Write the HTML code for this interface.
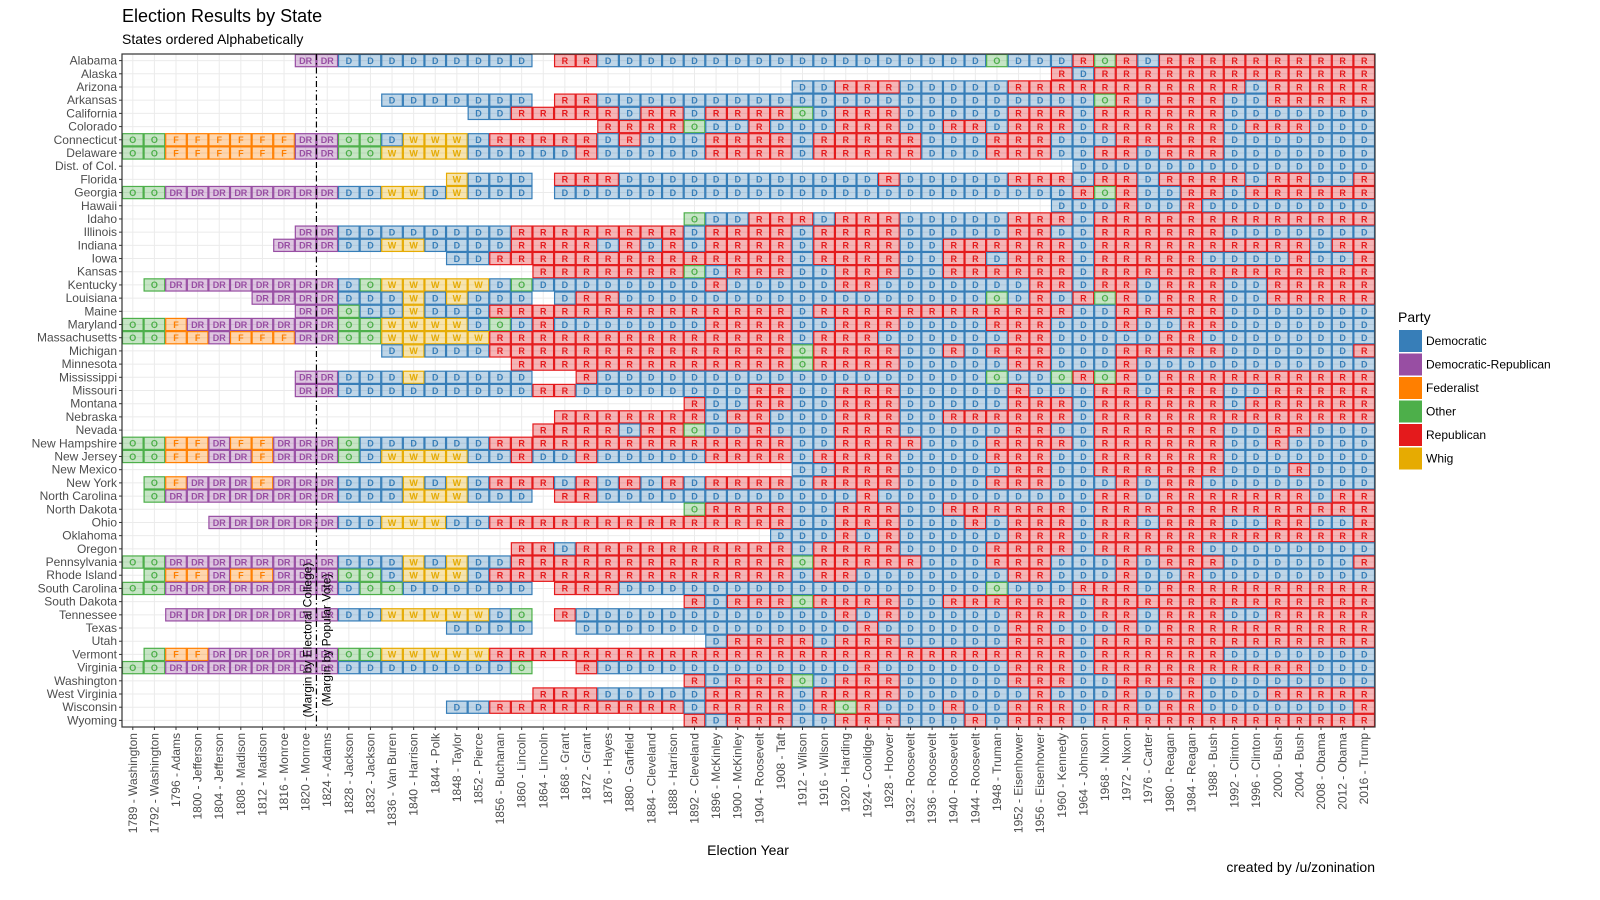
<!DOCTYPE html>
<html><head><meta charset="utf-8"><style>
html,body{margin:0;padding:0;background:#fff;overflow:hidden;width:1600px;height:900px;}
svg{display:block;}
svg text{font-family:"Liberation Sans",Arial,sans-serif;}
</style></head><body>
<svg id="chart" width="1600" height="900" viewBox="0 0 1600 900" xmlns="http://www.w3.org/2000/svg">
<text x="122" y="22" font-size="18" fill="#000">Election Results by State</text>
<text x="122" y="44" font-size="14" fill="#000">States ordered Alphabetically</text>
<text x="748" y="855" font-size="14" text-anchor="middle" fill="#000">Election Year</text>
<text x="1375" y="872" font-size="14" text-anchor="end" fill="#000">created by /u/zonination</text>
<g id="plot"></g>
<g id="legend"></g>
</svg>
<script>
const years=["1789 - Washington","1792 - Washington","1796 - Adams","1800 - Jefferson","1804 - Jefferson","1808 - Madison","1812 - Madison","1816 - Monroe","1820 - Monroe","1824 - Adams","1828 - Jackson","1832 - Jackson","1836 - Van Buren","1840 - Harrison","1844 - Polk","1848 - Taylor","1852 - Pierce","1856 - Buchanan","1860 - Lincoln","1864 - Lincoln","1868 - Grant","1872 - Grant","1876 - Hayes","1880 - Garfield","1884 - Cleveland","1888 - Harrison","1892 - Cleveland","1896 - McKinley","1900 - McKinley","1904 - Roosevelt","1908 - Taft","1912 - Wilson","1916 - Wilson","1920 - Harding","1924 - Coolidge","1928 - Hoover","1932 - Roosevelt","1936 - Roosevelt","1940 - Roosevelt","1944 - Roosevelt","1948 - Truman","1952 - Eisenhower","1956 - Eisenhower","1960 - Kennedy","1964 - Johnson","1968 - Nixon","1972 - Nixon","1976 - Carter","1980 - Reagan","1984 - Reagan","1988 - Bush","1992 - Clinton","1996 - Clinton","2000 - Bush","2004 - Bush","2008 - Obama","2012 - Obama","2016 - Trump"];
const states=["Alabama","Alaska","Arizona","Arkansas","California","Colorado","Connecticut","Delaware","Dist. of Col.","Florida","Georgia","Hawaii","Idaho","Illinois","Indiana","Iowa","Kansas","Kentucky","Louisiana","Maine","Maryland","Massachusetts","Michigan","Minnesota","Mississippi","Missouri","Montana","Nebraska","Nevada","New Hampshire","New Jersey","New Mexico","New York","North Carolina","North Dakota","Ohio","Oklahoma","Oregon","Pennsylvania","Rhode Island","South Carolina","South Dakota","Tennessee","Texas","Utah","Vermont","Virginia","Washington","West Virginia","Wisconsin","Wyoming"];
// X = Democratic-Republican, '.' = no vote
const results=[
"........XX DDDDDDDDD. RRDDDDDDDD DDDDDDDDDD ODDDRORDRR RRRRRRRR",
".......... .......... .......... .......... ...RDRRRRR RRRRRRRR",
".......... .......... .......... .DDRRRDDDD DRRRRRRRRR RRDRRRRR",
".......... ..DDDDDDD. RRDDDDDDDD DDDDDDDDDD DDDDDORDRR RDDRRRRR",
".......... ......DDRR RRRDRRDRRR RODRRRDDDD DRRRDRRRRR RDDDDDDD",
".......... .......... ..RRRRODDR DDDRRRDDRR DRRRDRRRRR RDRRRDDD",
"OOFFFFFFXX OODWWWDRRR RRDRDDDRRR RDRRRRRDDD RRRDDDRRRR RDDDDDDD",
"OOFFFFFFXX OOWWWWDDDD DRDDDDDRRR RDRRRRRDDD RRRDDRRDRR RDDDDDDD",
".......... .......... .......... .......... ....DDDDDD DDDDDDDD",
".......... .....WDDD. RRRDDDDDDD DDDDDRDDDD DRRRDRRDRR RRDRRDDR",
"OOXXXXXXXX DDWWDWDDD. DDDDDDDDDD DDDDDDDDDD DDDDRORDDR RDRRRRRR",
".......... .......... .......... .......... ...DDDRDDR DDDDDDDD",
".......... .......... ......ODDR RRDRRRDDDD DRRRDRRRRR RRRRRRRR",
"........XX DDDDDDDDRR RRRRRRDRRR RDRRRRDDDD DRRDDRRRRR RDDDDDDD",
".......XXX DDWWDDDDRR RRDRDRDRRR RDRRRRDDRR RRRRDRRRRR RRRRRDRR",
".......... .....DDRRR RRRRRRRRRR RDRRRRDDRR DRRRDRRRRR DDDDRDDR",
".......... .........R RRRRRRODRR RDDRRRDDRR RRRRDRRRRR RRRRRRRR",
".OXXXXXXXX DOWWWWWDOD DDDDDDDRDD DDDRRDDDDD DDRRDRRDRR RDDRRRRR",
"......XXXX DDDWDWDDD. DRRDDDDDDD DDDDDDDDDD ODRDRORDRR RDDRRRRR",
"........XX ODDWDDDRRR RRRRRRRRRR RDRRRRRRRR RRRRDDRRRR RDDDDDDD",
"OOFXXXXXXX OOWWWWDODR DDDDDDDRRR RDDRRRDDDD RRRDDDRDDR RDDDDDDD",
"OOFFXFFFXX OOWWWWWRRR RRRRRRRRRR RDRRRDDDDD DRRDDDDDRR DDDDDDDD",
".......... ..DWDDDRRR RRRRRRRRRR RORRRRDDRD RRRDDDRRRR RDDDDDDR",
".......... ........RR RRRRRRRRRR RORRRRDDDD DRRDDDRDDD DDDDDDDD",
"........XX DDDWDDDDD. .RDDDDDDDD DDDDDDDDDD ODDORORDRR RRRRRRRR",
"........XX DDDDDDDDDR RDDDDDDDDR RDDRRRDDDD DRDDDRRDRR RDDRRRRR",
".......... .......... ......RDDR RDDRRRDDDD DRRRDRRRRR RDRRRRRR",
".......... .......... RRRRRRRDRR DDDRRRDDRR RRRRDRRRRR RRRRRRRR",
".......... .........R RRRDRRODDR DDDRRRDDDD DRRDDRRRRR RDDRRDDD",
"OOFFXFFXXX ODDDDDDRRR RRRRRRRRRR RDDRRRRDDD RRRRDRRRRR RDDRDDDD",
"OOFFXXFXXX ODWWWWDDRD DRDDDDDRRR RDRRRRDDDD RRRDDRRRRR RDDDDDDD",
".......... .......... .......... .DDRRRDDDD DRRDDRRRRR RDDDRDDD",
".OFXXXFXXX DDDWDWDRRR DRDRDRDRRR RDRRRRDDDD RRRDDDRDRR DDDDDDDD",
".OXXXXXXXX DDDWWWDDD. RRDDDDDDDD DDDDRDDDDD DDDDDRRDRR RRRRRDRR",
".......... .......... ......ORRR RDDRRRDDRR RRRRDRRRRR RRRRRRRR",
"....XXXXXX DDWWWDDRRR RRRRRRRRRR RDDRRRDDDR DRRRDRRDRR RDDRRDDR",
".......... .......... .......... DDDRDRDDDD DRRRDRRRRR RRRRRRRR",
".......... ........RR DRRRRRRRRR RDRRRRDDDD RRRRDRRRRR DDDDDDDD",
"OOXXXXXXXX DDDWDWDDRR RRRRRRRRRR RORRRRRDDD RRRDDDRDRR RDDDDDDR",
".OFFXFFXXX OODWWWDRRR RRRRRRRRRR RDRRDDDDDD DRRDDDRDDR DDDDDDDD",
"OOXXXXXXXX DOODDDDDD. RRRDDDDDDD DDDDDDDDDD ODDDRRRDRR RRRRRRRR",
".......... .......... ......RDRR RORRRRDDRR RRRRDRRRRR RRRRRRRR",
"..XXXXXXXX DDWWWWWDO. RDDDDDDDDD DDDRDRDDDD DRRRDRRDRR RDDRRRRR",
".......... .....DDDD. .DDDDDDDDD DDDDRDDDDD DRRDDDRDRR RRRRRRRR",
".......... .......... .......DRR RRDRRRDDDD DRRRDRRRRR RRRRRRRR",
".OFFXXXXXX OOWWWWWRRR RRRRRRRRRR RRRRRRRRRR RRRRDRRRRR RDDDDDDD",
"OOXXXXXXXX DDDDDDDDO. .RDDDDDDDD DDDDRDDDDD DRRRDRRRRR RRRRRDDD",
".......... .......... ......RDRR RODRRRDDDD DRRRDDRRRR DDDDDDDD",
".......... .........R RRDDDDDRRR RDRRRRDDDD DDRDDDRDDR DDDRRRRR",
".......... .....DDRRR RRRRRRDRRR RDRORDDDRD DRRRDRRDRR DDDDDDDR",
".......... .......... ......RDRR RDDRRRDDDR DRRRDRRRRR RRRRRRRR"
];
const partyNames=["Democratic","Democratic-Republican","Federalist","Other","Republican","Whig"];
const partyCodes=["D","X","F","O","R","W"];
const partyColors=["#377EB8","#984EA3","#FF7F00","#4DAF4A","#E41A1C","#E6AB02"];
const partyLabels=["D","DR","F","O","R","W"];

const NS="http://www.w3.org/2000/svg";
const X0=122,X1=1375,Y0=54,Y1=727;
const cw=(X1-X0)/years.length, rh=(Y1-Y0)/states.length;
const xPos=i=>X0+i*cw, yPos=j=>Y0+j*rh;
const plot=document.getElementById('plot');
function mk(tag,attrs,parent){const e=document.createElementNS(NS,tag);for(const k in attrs)e.setAttribute(k,attrs[k]);(parent||plot).appendChild(e);return e;}

const grid=mk('g',{});


years.forEach((y,i)=>{mk('line',{x1:xPos(i)+cw/2,x2:xPos(i)+cw/2,y1:Y0,y2:Y1,stroke:'#ebebeb','stroke-width':1},grid);});
states.forEach((s,j)=>{mk('line',{x1:X0,x2:X1,y1:yPos(j)+rh/2,y2:yPos(j)+rh/2,stroke:'#ebebeb','stroke-width':1},grid);});

const cells=mk('g',{});


results.forEach((row,j)=>{
  const r=row.replace(/ /g,'');
  for(let i=0;i<years.length;i++){
    const c=r[i];const k=partyCodes.indexOf(c);
    if(k<0)continue;
    const g=mk('g',{},cells);
    
    
    mk('rect',{x:xPos(i)+0.5,y:yPos(j)+0.5,width:cw-1,height:rh-1,fill:partyColors[k],'fill-opacity':0.32,stroke:partyColors[k],'stroke-width':1.2},g);
    const t=mk('text',{x:xPos(i)+cw/2,y:yPos(j)+rh/2+3.3,'font-size':9,'text-anchor':'middle',fill:partyColors[k],'font-weight':'bold'},g);
    t.textContent=partyLabels[k];
  }
});

const border=mk('rect',{x:X0,y:Y0,width:X1-X0,height:Y1-Y0,fill:'none',stroke:'#333','stroke-width':1.2});



const sx=xPos(9);
const sep=mk('line',{x1:sx,x2:sx,y1:Y0,y2:Y1,stroke:'#000','stroke-width':1.2,'stroke-dasharray':'6,3,1.5,3'});


const a1=mk('text',{x:0,y:0,'font-size':12,'text-anchor':'middle',transform:`translate(${sx-5},640) rotate(-90)`,fill:'#000'});


a1.textContent='(Margin by Electoral College)';
const a2=mk('text',{x:0,y:0,'font-size':12,'text-anchor':'middle',transform:`translate(${sx+14},640) rotate(-90)`,fill:'#000'});


a2.textContent='(Margin by Popular Vote)';

states.forEach((s,j)=>{
  const y=yPos(j)+rh/2;
  const tk=mk('line',{x1:X0-3,x2:X0,y1:y,y2:y,stroke:'#333'});
  
  
  const t=mk('text',{x:X0-5,y:y+4,'font-size':12,'text-anchor':'end',fill:'#4d4d4d'});
  
  
  t.textContent=s;
});
years.forEach((yr,i)=>{
  const x=xPos(i)+cw/2;
  const tk=mk('line',{x1:x,x2:x,y1:Y1,y2:Y1+3,stroke:'#333'});
  
  
  const t=mk('text',{x:0,y:0,'font-size':12,'text-anchor':'end',fill:'#4d4d4d',transform:`translate(${x+4},${Y1+6}) rotate(-90)`});
  
  
  t.textContent=yr;
});

const lg=document.getElementById('legend');
const lt=mk('text',{x:1398,y:322,'font-size':14,fill:'#000'},lg);


lt.textContent='Party';
partyNames.forEach((p,k)=>{
  const y=330+k*23.5;
  const g=mk('g',{},lg);
  
  
  mk('rect',{x:1399,y:y,width:23,height:22,fill:partyColors[k]},g);
  const t=mk('text',{x:1426,y:y+15,'font-size':12,fill:'#000'},g);
  t.textContent=p;
});
</script>
</body></html>
